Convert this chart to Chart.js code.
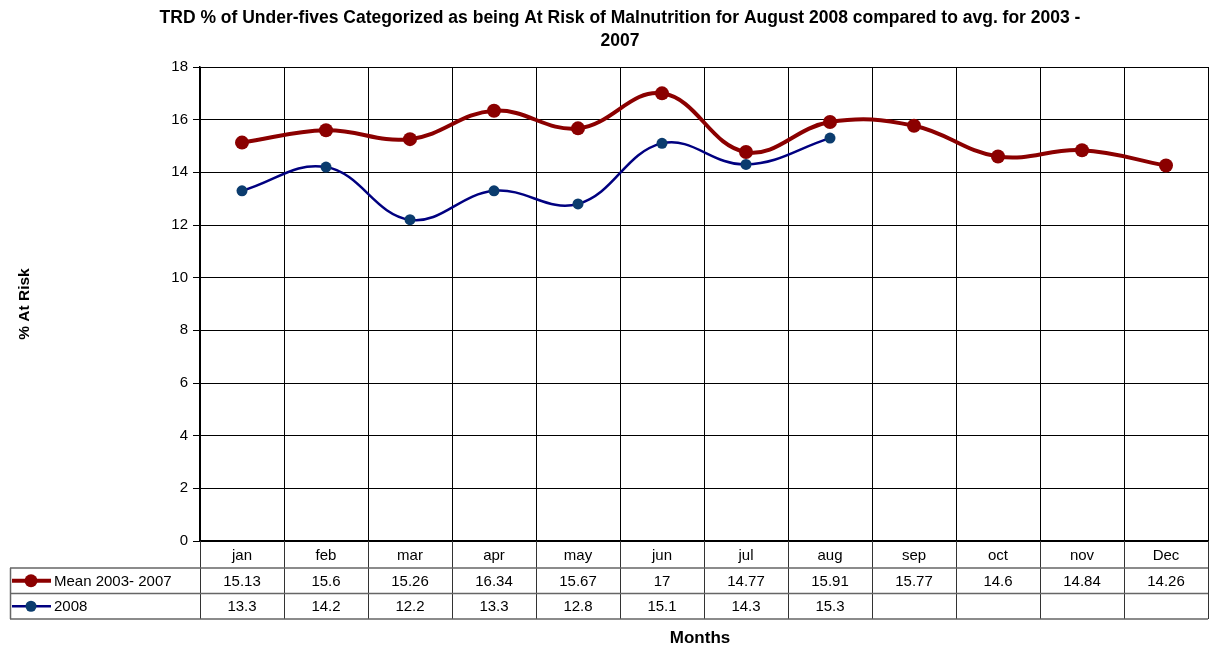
<!DOCTYPE html>
<html>
<head>
<meta charset="utf-8">
<script src="https://cdn.jsdelivr.net/npm/chart.js@4.4.0/dist/chart.umd.min.js"></script>
<style>
  html, body { margin: 0; padding: 0; background: #fff; }
  #wrap { width: 1210px; height: 645px; }
</style>
</head>
<body>
<div id="wrap"><canvas id="chart"></canvas></div>
<script>
const months = ["jan", "feb", "mar", "apr", "may", "jun", "jul", "aug", "sep", "oct", "nov", "Dec"];
const meanValues = [15.13, 15.6, 15.26, 16.34, 15.67, 17, 14.77, 15.91, 15.77, 14.6, 14.84, 14.26];
const values2008 = [13.3, 14.2, 12.2, 13.3, 12.8, 15.1, 14.3, 15.3, null, null, null, null];
const seriesNames = ["Mean 2003- 2007", "2008"];
const titleLines = ["TRD % of Under-fives Categorized as being At Risk of Malnutrition for August 2008 compared to avg. for 2003 -", "2007"];

const FONT = "Arial, 'Liberation Sans', sans-serif";
const RED = "#8b0000";
const BLUE = "#000080";
const DOT_BLUE = "#0b3c6e";

// title, data table and x title are drawn here, using the x scale for column positions
const tablePlugin = {
  id: "tablePlugin",
  afterDraw(chart) {
    const ctx = chart.ctx;
    const xs = chart.scales.x;
    const area = chart.chartArea;
    const colW = xs.getPixelForValue(1) - xs.getPixelForValue(0);
    const top = area.bottom;
    const rowH = 25.5;
    const hdrH = 27;
    const r1 = top + hdrH, r2 = r1 + rowH, r3 = r2 + rowH;

    ctx.save();
    // title
    ctx.fillStyle = "#000";
    ctx.font = "bold 17.5px " + FONT;
    ctx.textAlign = "center";
    ctx.textBaseline = "middle";
    ctx.fillText(titleLines[0], 620, 18);
    ctx.fillText(titleLines[1], 620, 41);

    // table grid
    ctx.strokeStyle = "#333";
    ctx.lineWidth = 1;
    ctx.beginPath();
    for (let i = 0; i <= months.length; i++) {
      const x = Math.round(xs.getPixelForValue(0) - colW / 2 + i * colW) + 0.5;
      ctx.moveTo(x, top);
      ctx.lineTo(x, r3);
    }
    ctx.stroke();
    ctx.strokeStyle = "#666";
    ctx.lineWidth = 1.5;
    ctx.beginPath();
    [r1, r2, r3].forEach(y => { ctx.moveTo(10, y); ctx.lineTo(area.right, y); });
    ctx.moveTo(10.5, r1); ctx.lineTo(10.5, r3);
    ctx.stroke();

    // cells
    ctx.fillStyle = "#000";
    ctx.font = "15px " + FONT;
    months.forEach((m, i) => {
      const cx = xs.getPixelForValue(i);
      ctx.fillText(m, cx, top + hdrH / 2 + 1);
      ctx.fillText(String(meanValues[i]), cx, r1 + rowH / 2 + 1);
      if (values2008[i] !== null) ctx.fillText(String(values2008[i]), cx, r2 + rowH / 2 + 1);
    });

    // legend keys
    const keys = [[RED, RED, 4, 6.5, r1 + rowH / 2], [BLUE, DOT_BLUE, 2.5, 5.5, r2 + rowH / 2]];
    keys.forEach(([lc, pc, lw, pr, y], k) => {
      ctx.strokeStyle = lc;
      ctx.lineWidth = lw;
      ctx.beginPath(); ctx.moveTo(12, y); ctx.lineTo(51, y); ctx.stroke();
      ctx.fillStyle = pc;
      ctx.beginPath(); ctx.arc(31, y, pr, 0, Math.PI * 2); ctx.fill();
      ctx.fillStyle = "#000";
      ctx.textAlign = "left";
      ctx.fillText(seriesNames[k], 54, y + 1);
    });

    // x axis title
    ctx.textAlign = "center";
    ctx.font = "bold 17px " + FONT;
    ctx.fillText("Months", 700, 638);
    ctx.restore();
  }
};

new Chart(document.getElementById("chart"), {
  type: "line",
  data: {
    labels: months,
    datasets: [
      {
        label: seriesNames[0],
        data: meanValues,
        borderColor: RED,
        backgroundColor: RED,
        borderWidth: 4,
        pointRadius: 7,
        pointBorderWidth: 0,
        tension: 0.4,
        fill: false
      },
      {
        label: seriesNames[1],
        data: values2008,
        borderColor: BLUE,
        backgroundColor: DOT_BLUE,
        borderWidth: 2.5,
        pointRadius: 5.5,
        pointBorderWidth: 0,
        tension: 0.4,
        fill: false
      }
    ]
  },
  options: {
    responsive: true,
    maintainAspectRatio: false,
    animation: false,
    layout: { autoPadding: false, padding: { top: 67, right: 2, bottom: 104, left: 0 } },
    plugins: {
      legend: { display: false },
      title: { display: false },
      tooltip: { enabled: false }
    },
    scales: {
      x: {
        offset: true,
        grid: { offset: true, color: "#000", lineWidth: 1, drawTicks: false },
        border: { color: "#000", width: 1.5 },
        ticks: { display: false },
        afterFit(scale) { scale.height = 0; }
      },
      y: {
        min: 0,
        max: 18,
        ticks: { stepSize: 2, color: "#000", font: { size: 15, family: FONT }, padding: 5 },
        grid: { color: "#000", lineWidth: 1, tickLength: 7 },
        border: { color: "#000", width: 1.5 },
        title: {
          display: true,
          text: "% At Risk",
          color: "#000",
          font: { size: 15.5, weight: "bold", family: FONT },
          padding: { top: 15 }
        },
        afterFit(scale) { scale.width = 200; }
      }
    }
  },
  plugins: [tablePlugin]
});
</script>
</body>
</html>
